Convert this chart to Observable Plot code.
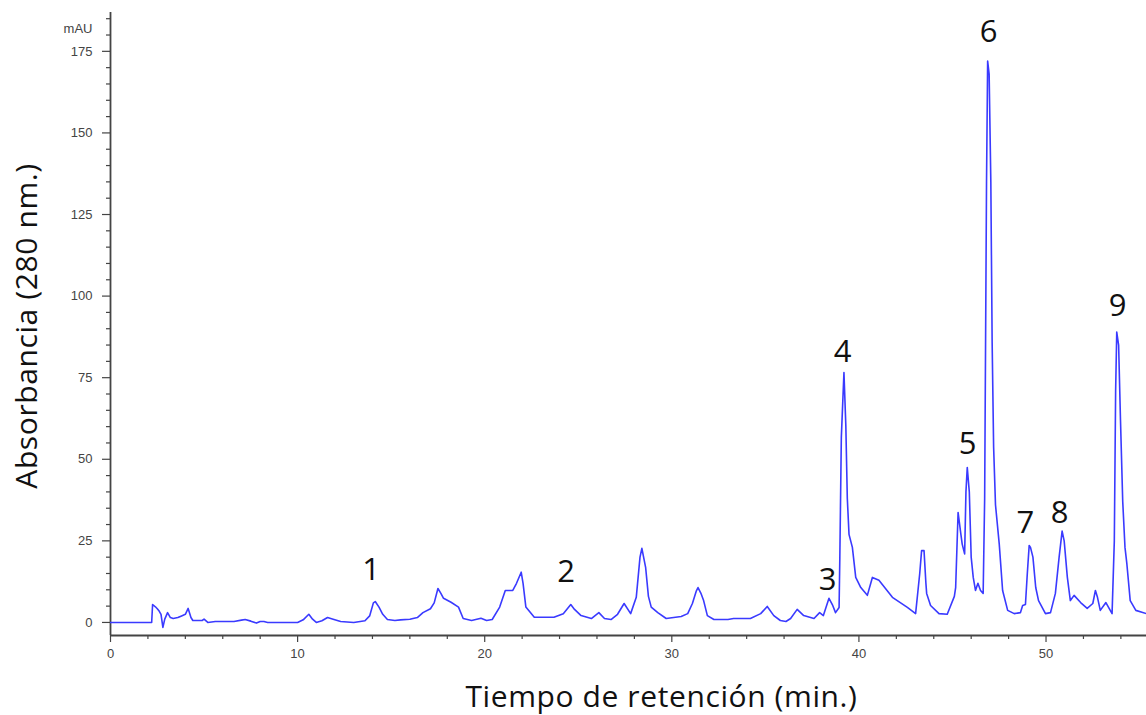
<!DOCTYPE html>
<html>
<head>
<meta charset="utf-8">
<script src="https://cdn.jsdelivr.net/npm/d3@7"></script>
<script src="https://cdn.jsdelivr.net/npm/@observablehq/plot@0.6"></script>
<style>
  html, body { margin: 0; padding: 0; background: #fff; }
  #chart { width: 1146px; height: 715px; }
</style>
</head>
<body>
<div id="chart"></div>
<script>
// Retention time (min) and absorbance (mAU at 280 nm)
const times = [0,2.2,2.25,2.4,2.5,2.6,2.7,2.8,2.9,3.05,3.2,3.35,3.6,3.8,4.0,4.15,4.3,4.4,4.9,5.0,5.2,5.6,6.6,7.0,7.2,7.5,7.8,8.0,8.2,8.4,10.0,10.3,10.6,10.8,11.0,11.3,11.6,11.9,12.3,13.0,13.6,13.85,14.05,14.15,14.35,14.55,14.8,15.2,15.5,16.0,16.4,16.7,17.1,17.3,17.5,17.65,17.8,18.2,18.6,18.85,19.3,19.8,20.1,20.4,20.8,21.1,21.5,21.7,21.95,22.05,22.2,22.65,23.7,24.2,24.6,24.8,25.15,25.7,26.1,26.4,26.75,27.1,27.45,27.8,28.1,28.3,28.4,28.6,28.75,28.9,29.25,29.7,30.5,30.85,31.1,31.3,31.4,31.55,31.7,31.9,32.25,33.0,33.3,34.2,34.75,35.1,35.45,35.8,36.1,36.35,36.7,37.05,37.6,37.9,38.1,38.4,38.6,38.75,38.94,38.98,39.06,39.2,39.3,39.38,39.47,39.65,39.83,40.1,40.45,40.72,41.07,41.79,42.59,43.03,43.25,43.35,43.48,43.58,43.62,43.83,44.28,44.72,45.1,45.17,45.3,45.45,45.52,45.65,45.72,45.79,45.9,46.0,46.11,46.23,46.36,46.5,46.64,46.72,46.82,46.88,46.96,47.05,47.12,47.2,47.3,47.5,47.68,47.95,48.3,48.63,48.75,48.9,49.0,49.1,49.17,49.3,49.45,49.6,49.97,50.24,50.5,50.7,50.86,50.97,51.14,51.3,51.5,51.85,52.2,52.5,52.64,52.75,52.9,53.2,53.53,53.65,53.72,53.78,53.88,53.98,54.1,54.22,54.32,54.5,54.8,55.37];
const absorbance = [0,0,5.5,4.8,4.2,3.5,2.5,-1.5,1,3,1.5,1.2,1.5,2,2.5,4.3,1.5,0.6,0.6,1.0,0,0.3,0.3,0.7,0.9,0.4,-0.2,0.3,0.3,0,0,0.8,2.5,1,0,0.5,1.5,1.0,0.3,0,0.5,2,6,6.4,4.7,2.5,0.9,0.6,0.8,1.0,1.5,3,4.2,6,10.4,9,7.4,6.2,4.7,1.2,0.6,1.3,0.6,0.9,4.7,9.8,9.8,12,15.4,12,4.7,1.6,1.6,2.7,5.5,4,2.1,1.2,3,1.2,0.9,2.5,5.8,2.7,7.7,20,22.7,16.9,8,4.7,3,1.2,1.8,2.7,5.8,9.5,10.7,9,6.7,2.1,0.9,0.9,1.2,1.2,2.7,4.9,2.1,0.6,0.3,1.2,4,2.1,1.2,3,2.1,7.4,5.2,3,4.6,20,56.7,76.6,60.4,38,27,23,13.8,10.7,8.3,13.8,12.9,7.7,4.6,2.7,15,22,22,12,8.9,5.2,2.7,2.5,8,10.7,33.7,27,24,21,40,47.5,40,20,13.8,9.8,12,9.8,8.9,38,135,172,168,135,86,53.6,36,24,9.8,3.7,2.7,3,5.2,5.5,15,23.6,23,20,10.7,6.7,2.7,3,8.9,20,28,25,13.8,6.7,8.3,6.1,4.3,5.8,9.8,7.7,3.7,6.1,2.7,25,71,89,85,62,37,23,18,6.7,3.7,2.7];

// Peak annotations
const peakIds = ["1","2","3","4","5","6","7","8","9"];
const peakLabelTimes = [13.93,24.35,38.33,39.13,45.81,46.93,48.9,50.72,53.82];
const peakLabelLevels = [15.9,15.3,12.9,82.7,54.8,180.8,30.3,33.4,97];

// Axis ticks
const xMajorTicks = [0,10,20,30,40,50];
const xMinorTicks = d3.range(0, 56, 2).filter(d => d % 10 !== 0);
const yMajorTicks = [0,25,50,75,100,125,150,175];
const yMinorTicks = d3.range(5, 190, 5).filter(d => d % 25 !== 0);

const yUnit = "mAU";
const xTitle = "Tiempo de retención (min.)";
const yTitle = "Absorbancia (280 nm.)";

const yMin = -4, yMax = 186.9;
const xMax = 55.37;

const trace = times.map((t, i) => ({t, a: absorbance[i]}));
const peaks = peakIds.map((id, i) => ({id, t: peakLabelTimes[i], a: peakLabelLevels[i]}));

const titleFont = "'Open Sans', Lato, sans-serif";

const chart = Plot.plot({
  width: 1146,
  height: 715,
  marginLeft: 110,
  marginRight: 0,
  marginTop: 12,
  marginBottom: 80,
  style: {fontFamily: "'Liberation Sans', Arial, sans-serif", fontSize: "13px", color: "#444", background: "#fff", overflow: "visible"},
  x: {domain: [0, xMax]},
  y: {domain: [yMin, yMax]},
  marks: [
    Plot.axisX({ticks: xMinorTicks, tickSize: 4, tickFormat: () => "", label: null, strokeWidth: 1.2}),
    Plot.axisX({ticks: xMajorTicks, tickSize: 7, tickPadding: 6, label: null, strokeWidth: 1.2}),
    Plot.axisY({ticks: yMinorTicks, tickSize: 4, tickFormat: () => "", label: null, strokeWidth: 1.2}),
    Plot.axisY({ticks: yMajorTicks, tickSize: 8, tickPadding: 10, label: null, strokeWidth: 1.2}),
    Plot.ruleY([yMin], {stroke: "#444", strokeWidth: 1.8}),
    Plot.ruleX([0], {stroke: "#444", strokeWidth: 1.8}),
    Plot.lineY(trace, {x: "t", y: "a", stroke: "#3a3aff", strokeWidth: 1.6, clip: true}),
    Plot.text(peaks, {x: "t", y: "a", text: "id", fontSize: 31, fill: "#111", fontFamily: titleFont}),
    Plot.text([yUnit], {frameAnchor: "top-left", dx: -18, dy: 11, textAnchor: "end", fill: "#444"}),
    Plot.text([xTitle], {frameAnchor: "bottom", textAnchor: "middle", lineAnchor: "middle", dx: 33, dy: 62, fontSize: 30, fill: "#111", fontFamily: titleFont}),
    Plot.text([yTitle], {frameAnchor: "left", textAnchor: "middle", lineAnchor: "middle", dx: -83, dy: 2, rotate: -90, fontSize: 30, fill: "#111", fontFamily: titleFont})
  ]
});
d3.select(chart).selectAll("text").filter(function() {
  const s = this.textContent;
  return s === xTitle || s === yTitle;
}).style("letter-spacing", "0.6px");
document.getElementById("chart").appendChild(chart);
</script>
</body>
</html>
